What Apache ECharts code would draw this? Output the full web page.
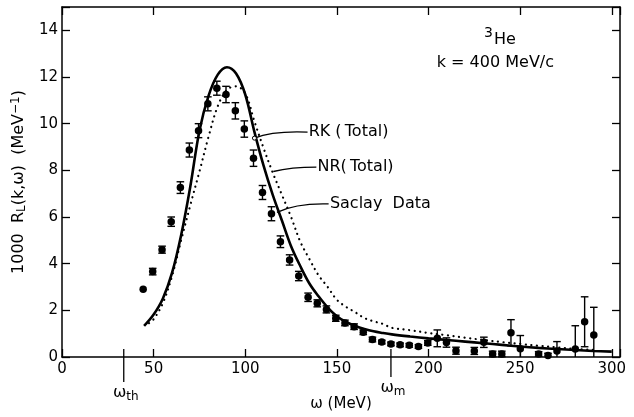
<!DOCTYPE html>
<html>
<head>
<meta charset="utf-8">
<script src="https://cdn.jsdelivr.net/npm/echarts@6/dist/echarts.min.js"></script>
<style>
  html, body { margin: 0; padding: 0; background: #fff; }
  #chart { width: 634px; height: 417px; }
</style>
</head>
<body>
<div id="chart"></div>
<script>
// Axis ticks
const xTickValues = [0, 50, 100, 150, 200, 250, 300];
const yTickValues = [0, 2, 4, 6, 8, 10, 12, 14];

// Saclay data: energy transfer ω (MeV), 1000 R_L (MeV^-1), error
const dataOmega = [44.3, 49.5, 54.6, 59.6, 64.6, 69.5, 74.5, 79.6, 84.5, 89.5,
                   94.6, 99.5, 104.5, 109.4, 114.3, 119.2, 124.2, 129.2, 134.3, 139.3,
                   144.3, 149.4, 154.4, 159.4, 164.4, 169.4, 174.5, 179.5, 184.5, 189.5,
                   194.5, 199.6, 204.8, 209.8, 215.0, 225.0, 230.2, 235.0, 240.0, 245.0,
                   250.1, 260.1, 265.2, 270.1, 280.1, 285.2, 290.2];
const dataR = [2.9, 3.66, 4.6, 5.8, 7.26, 8.87, 9.7, 10.85, 11.52, 11.25,
               10.55, 9.77, 8.52, 7.05, 6.14, 4.94, 4.16, 3.47, 2.56, 2.3,
               2.04, 1.66, 1.46, 1.3, 1.06, 0.75, 0.64, 0.56, 0.52, 0.5,
               0.45, 0.6, 0.8, 0.62, 0.27, 0.26, 0.63, 0.13, 0.13, 1.04,
               0.35, 0.13, 0.06, 0.26, 0.34, 1.51, 0.94];
const dataErr = [0.0, 0.14, 0.15, 0.2, 0.25, 0.3, 0.3, 0.3, 0.3, 0.35,
                 0.35, 0.35, 0.35, 0.3, 0.3, 0.25, 0.22, 0.2, 0.18, 0.15,
                 0.15, 0.13, 0.12, 0.12, 0.1, 0.1, 0.08, 0.08, 0.08, 0.08,
                 0.08, 0.1, 0.36, 0.2, 0.15, 0.15, 0.22, 0.12, 0.12, 0.56,
                 0.57, 0.1, 0.1, 0.4, 1.0, 1.07, 1.19];

// RK (Total) calculation
const rkOmega = [44.8, 50, 55, 60, 65, 70, 75, 80, 85, 90, 95, 100, 105, 110, 115, 120,
                 125, 130, 135, 140, 145, 150, 155, 160, 165, 170, 175, 180, 190, 200,
                 210, 220, 230, 240, 250, 260, 270, 280, 290, 300];
const rkR = [1.33, 1.82, 2.5, 3.59, 5.22, 7.3, 9.7, 11.2, 12.1, 12.42, 12.15, 11.25, 9.65, 8.2, 6.95, 5.85,
             4.75, 3.9, 3.15, 2.6, 2.12, 1.75, 1.5, 1.33, 1.2, 1.1, 1.03, 0.97, 0.88, 0.8,
             0.73, 0.66, 0.59, 0.52, 0.45, 0.39, 0.34, 0.3, 0.26, 0.23];

// NR (Total) calculation
const nrOmega = [47.5, 50, 55, 60, 65, 70, 75, 80, 85, 90, 95, 100, 105, 110, 115, 120,
                 125, 130, 135, 140, 145, 150, 155, 160, 165, 170, 175, 180, 190, 200,
                 210, 220, 230, 240, 250, 260, 270, 280, 290];
const nrR = [1.45, 1.62, 2.3, 3.45, 5.0, 6.5, 7.95, 9.45, 10.75, 11.45, 11.6, 11.3, 10.1, 8.95, 7.9, 6.95,
             6.0, 4.95, 4.2, 3.5, 3.0, 2.45, 2.15, 1.92, 1.67, 1.53, 1.42, 1.25, 1.15, 1.03,
             0.93, 0.83, 0.73, 0.64, 0.56, 0.48, 0.41, 0.35, 0.3];

// Marked energies below the axis
const markOmega = [33.7, 179.5];
const markSub = ['th', 'm'];

const FONT = 'DejaVu Sans';
const INK = '#000';

const pairs = (xs, ys) => xs.map((x, i) => [x, ys[i]]);

const chart = echarts.init(document.getElementById('chart'), null, { renderer: 'canvas' });

const baseX = {
  type: 'value', min: 0, max: 304.5, interval: 50,
  axisLine: { show: true, onZero: false, lineStyle: { color: INK, width: 1.5 } },
  axisTick: { show: true, inside: true, length: 8, lineStyle: { color: INK, width: 1.3 } },
  splitLine: { show: false }
};
const baseY = {
  type: 'value', min: 0, max: 15, interval: 2,
  axisLine: { show: true, onZero: false, lineStyle: { color: INK, width: 1.5 } },
  axisTick: { show: true, inside: true, length: 8, lineStyle: { color: INK, width: 1.3 } },
  splitLine: { show: false }
};

const option = {
  animation: false,
  backgroundColor: '#fff',
  grid: { left: 62, right: 14, top: 7, bottom: 60, containLabel: false },
  xAxis: [
    Object.assign({}, baseX, {
      position: 'bottom',
      name: 'ω (MeV)', nameLocation: 'middle', nameGap: 40,
      nameTextStyle: { fontFamily: FONT, fontSize: 15, color: INK },
      axisLabel: {
        show: true, margin: 5, fontFamily: FONT, fontSize: 15, color: INK,
        formatter: v => (xTickValues.indexOf(v) >= 0 ? String(v) : '')
      }
    }),
    Object.assign({}, baseX, { position: 'top', axisLabel: { show: false } })
  ],
  yAxis: [
    Object.assign({}, baseY, {
      position: 'left',
      name: '{t|1000  R}{sub|L}{t|(k,ω)  (MeV}{sup|−1}{t|)}',
      nameLocation: 'middle', nameGap: 34,
      nameTextStyle: {
        fontFamily: FONT, fontSize: 16, color: INK,
        rich: {
          t: { fontFamily: FONT, fontSize: 16, color: INK },
          sub: { fontFamily: FONT, fontSize: 12, color: INK, verticalAlign: 'bottom', padding: [6, 0, 0, 0] },
          sup: { fontFamily: FONT, fontSize: 12, color: INK, verticalAlign: 'top', padding: [0, 0, 6, 0] }
        }
      },
      axisLabel: {
        show: true, margin: 4, fontFamily: FONT, fontSize: 15, color: INK,
        formatter: v => (yTickValues.indexOf(v) >= 0 ? String(v) : '')
      }
    }),
    Object.assign({}, baseY, { position: 'right', axisLabel: { show: false } })
  ],
  series: [
    {
      name: 'RK (Total)', type: 'line', xAxisIndex: 0, yAxisIndex: 0,
      data: pairs(rkOmega, rkR), smooth: 0.35, showSymbol: false, z: 3,
      lineStyle: { color: INK, width: 2.6, opacity: 1 }
    },
    {
      name: 'NR (Total)', type: 'line', xAxisIndex: 0, yAxisIndex: 0,
      data: pairs(nrOmega, nrR), smooth: 0.35, showSymbol: false, z: 3,
      lineStyle: { color: INK, width: 2.2, type: [0.1, 5.5], cap: 'round', opacity: 1 }
    },
    {
      name: 'Saclay error', type: 'custom', xAxisIndex: 0, yAxisIndex: 0, z: 4,
      data: dataOmega.map((w, i) => [w, dataR[i], dataErr[i]]),
      renderItem: (params, api) => {
        const w = api.value(0), r = api.value(1), e = api.value(2);
        if (e <= 0) return null;
        const lo = api.coord([w, Math.max(0, r - e)]);
        const hi = api.coord([w, r + e]);
        const cap = 3.8;
        const st = { stroke: INK, lineWidth: 1.4 };
        const kids = [
          { type: 'line', shape: { x1: lo[0], y1: lo[1], x2: hi[0], y2: hi[1] }, style: st },
          { type: 'line', shape: { x1: hi[0] - cap, y1: hi[1], x2: hi[0] + cap, y2: hi[1] }, style: st }
        ];
        if (r - e > 0) {
          kids.push({ type: 'line', shape: { x1: lo[0] - cap, y1: lo[1], x2: lo[0] + cap, y2: lo[1] }, style: st });
        }
        return { type: 'group', children: kids };
      }
    },
    {
      name: 'Saclay Data', type: 'scatter', xAxisIndex: 0, yAxisIndex: 0, z: 5,
      data: pairs(dataOmega, dataR), symbol: 'circle', symbolSize: 7.5,
      itemStyle: { color: INK, opacity: 1 }
    },
    {
      name: 'marks', type: 'custom', xAxisIndex: 0, yAxisIndex: 0, z: 6, clip: false,
      data: markOmega.map((w, i) => [w, i]),
      renderItem: (params, api) => {
        const i = api.value(1);
        const p = api.coord([api.value(0), 0]);
        const below = i === 0 ? 25 : 20;
        return {
          type: 'group',
          children: [
            { type: 'line', shape: { x1: p[0], y1: p[1] - 8, x2: p[0], y2: p[1] + below },
              style: { stroke: INK, lineWidth: 1.3 } },
            { type: 'text', x: p[0] + 2, y: p[1] + below + 1,
              style: {
                text: '{w|ω}{s|' + markSub[i] + '}', align: 'center', verticalAlign: 'top',
                rich: {
                  w: { fontFamily: FONT, fontSize: 16, fill: INK },
                  s: { fontFamily: FONT, fontSize: 12, fill: INK, padding: [8, 0, 0, 0] }
                }
              } }
          ]
        };
      }
    }
  ]
};

chart.setOption(option);

// Annotation text and leader lines placed in data coordinates
const px = (w, r) => chart.convertToPixel({ xAxisIndex: 0, yAxisIndex: 0 }, [w, r]);
const txt = (p, text) => ({
  type: 'text', x: p[0], y: p[1],
  style: { text: text, fontFamily: FONT, fontSize: 16, fill: INK, align: 'left', verticalAlign: 'middle' }
});
const curve = (a, c, b) => ({
  type: 'bezierCurve',
  shape: { x1: a[0], y1: a[1], cpx1: c[0], cpy1: c[1], x2: b[0], y2: b[1] },
  style: { stroke: INK, lineWidth: 1.3, fill: null }
});

const rkStart = px(134.0, 9.64), rkCtl = px(115.0, 9.7), rkEnd = px(105.0, 9.38);
const nrStart = px(138.8, 8.14), nrCtl = px(125.0, 8.14), nrEnd = px(115.3, 7.95);
const sdStart = px(145.5, 6.56), sdCtl = px(128.0, 6.6), sdEnd = px(117.3, 6.2);
const heAt = px(239, 13.75);
const kAt = px(236.5, 12.6);

chart.setOption({
  graphic: [
    curve(rkStart, rkCtl, rkEnd),
    { type: 'circle', shape: { cx: rkEnd[0], cy: rkEnd[1], r: 2 }, style: { stroke: INK, fill: '#fff', lineWidth: 1 }, z: 10 },
    txt(px(134.6, 9.64), 'RK (\u2009Total)'),
    curve(nrStart, nrCtl, nrEnd),
    txt(px(139.4, 8.14), 'NR(\u2009Total)'),
    curve(sdStart, sdCtl, sdEnd),
    txt(px(146.2, 6.56), 'Saclay  Data'),
    {
      type: 'text', x: heAt[0], y: heAt[1],
      style: {
        text: '{sup|3}{t|He}', align: 'center', verticalAlign: 'middle',
        rich: {
          t: { fontFamily: FONT, fontSize: 16, fill: INK, padding: [8, 0, 0, 0] },
          sup: { fontFamily: FONT, fontSize: 14, fill: INK, padding: [0, 1, 6, 0] }
        }
      }
    },
    {
      type: 'text', x: kAt[0], y: kAt[1],
      style: { text: 'k = 400 MeV/c', fontFamily: FONT, fontSize: 16, fill: INK, align: 'center', verticalAlign: 'middle' }
    }
  ]
});
</script>
</body>
</html>
